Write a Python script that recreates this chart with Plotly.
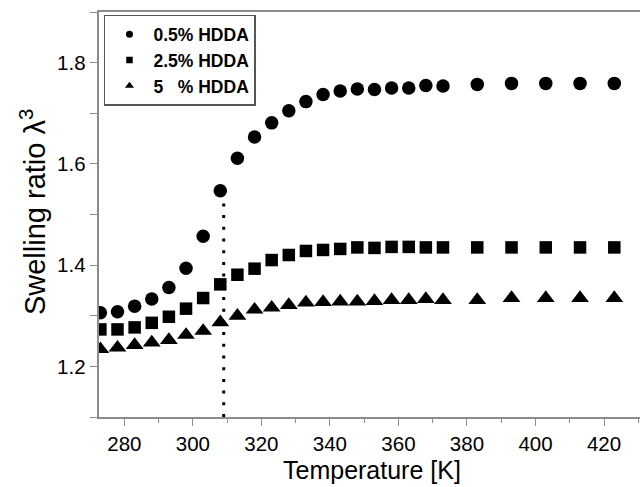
import plotly.graph_objects as go

# ---- data ----
temperature = [273, 278, 283, 288, 293, 298, 303, 308, 313, 318, 323, 328, 333, 338,
               343, 348, 353, 358, 363, 368, 373, 383, 393, 403, 413, 423]

hdda_05 = [1.306, 1.308, 1.319, 1.333, 1.356, 1.394, 1.457, 1.547, 1.611, 1.653, 1.681,
           1.705, 1.723, 1.737, 1.744, 1.748, 1.747, 1.750, 1.750, 1.755, 1.754,
           1.757, 1.759, 1.759, 1.759, 1.759]

hdda_25 = [1.273, 1.273, 1.277, 1.286, 1.298, 1.314, 1.335, 1.362, 1.381, 1.393, 1.410,
           1.420, 1.428, 1.430, 1.432, 1.435, 1.434, 1.436, 1.436, 1.435, 1.435,
           1.435, 1.435, 1.435, 1.435, 1.435]

hdda_5 = [1.234, 1.237, 1.242, 1.247, 1.252, 1.262, 1.270, 1.287, 1.300, 1.312, 1.316,
          1.321, 1.326, 1.327, 1.328, 1.328, 1.329, 1.331, 1.331, 1.333, 1.331,
          1.331, 1.335, 1.335, 1.335, 1.335]

series_names = ["0.5% HDDA", "2.5% HDDA", "5\u00a0\u00a0\u00a0% HDDA"]

transition_temp = [309, 309]
transition_swelling = [1.1, 1.547]

x_range = [272.6, 430.5]
y_range = [1.1, 1.9]

x_title = "Temperature [K]"
y_title = "Swelling ratio λ<sup>3</sup>"

FONT = "Arial, Liberation Sans, sans-serif"

fig = go.Figure()

series = [(hdda_05, "circle", 13.5), (hdda_25, "square", 12.5), (hdda_5, "triangle-up", 15.5)]
for vals, sym, size in series:
    fig.add_trace(go.Scatter(x=temperature, y=vals, mode="markers",
                             marker=dict(symbol=sym, size=size, color="black"),
                             showlegend=False))

fig.add_trace(go.Scatter(x=transition_temp, y=transition_swelling, mode="lines",
                         line=dict(color="black", width=3, dash="3px,8.7px"),
                         showlegend=False))

legend_sizes = [7, 6.5, 8]
for (vals, sym, _), name, ls in zip(series, series_names, legend_sizes):
    fig.add_trace(go.Scatter(x=[None], y=[None], mode="markers", name=name,
                             marker=dict(symbol=sym, size=ls, color="black")))

axis_common = dict(showline=True, linecolor="#8c8c8c", linewidth=1.6,
                   ticks="outside", tickcolor="#8c8c8c", ticklen=7.5, tickwidth=1.3,
                   showgrid=False, zeroline=False,
                   tickfont=dict(family=FONT, size=20.5, color="black"))

fig.update_layout(
    width=640, height=487,
    margin=dict(l=99, r=0, t=12, b=70),
    paper_bgcolor="white", plot_bgcolor="white",
    xaxis=dict(range=x_range, dtick=20, mirror=True,
               minor=dict(dtick=10, ticks="outside", ticklen=4.5, tickcolor="#8c8c8c", tickwidth=1.3),
               **axis_common),
    yaxis=dict(range=y_range, dtick=0.2, tickformat=".1f", mirror=False,
               minor=dict(dtick=0.1, ticks="outside", ticklen=7, tickcolor="#8c8c8c", tickwidth=1.3),
               **axis_common),
    legend=dict(x=0.0092, y=0.993, xanchor="left", yanchor="top",
                bgcolor="white", bordercolor="#555555", borderwidth=1.5,
                font=dict(family=FONT, size=17.5, color="black", weight="bold"),
                tracegroupgap=0, itemwidth=38),
    annotations=[
        dict(text=x_title, xref="paper", yref="paper", x=0.505, y=-0.131,
             xanchor="center", yanchor="middle", showarrow=False,
             font=dict(family=FONT, size=25, color="black")),
        dict(text=y_title, xref="paper", yref="paper", x=-0.122, y=0.506,
             xanchor="center", yanchor="middle", showarrow=False, textangle=-90,
             font=dict(family=FONT, size=29, color="black")),
    ],
)

fig.write_html("out.html", config={"displayModeBar": False},
               post_script="document.body.style.margin='0';document.body.style.overflow='hidden';")
